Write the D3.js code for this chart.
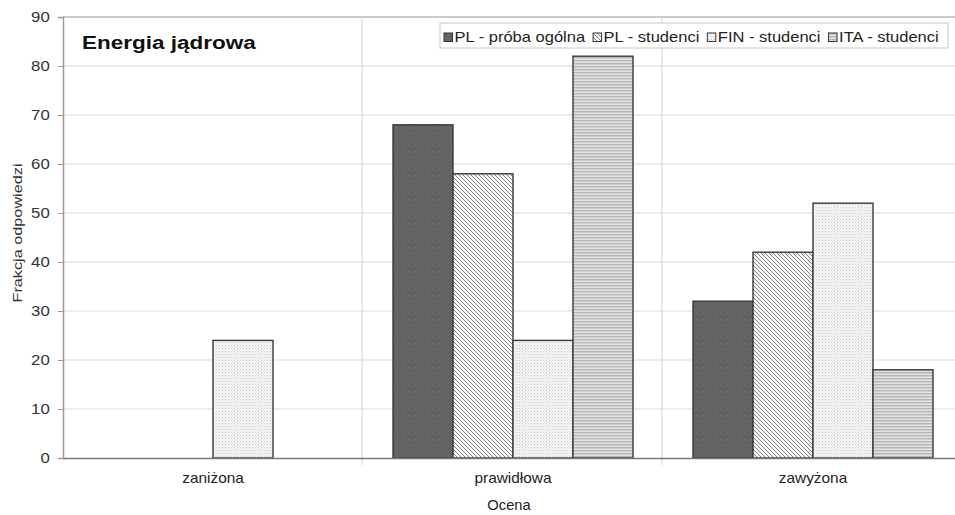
<!DOCTYPE html>
<html><head><meta charset="utf-8">
<script src="https://cdn.jsdelivr.net/npm/d3@7"></script>
<style>body{margin:0;background:#fff}svg{display:block}</style>
</head><body>
<svg id="c" width="955" height="515"></svg>
<script>
const categories = ["zaniżona", "prawidłowa", "zawyżona"];
const seriesNames = ["PL - próba ogólna", "PL - studenci", "FIN - studenci", "ITA - studenci"];
const plOgolna = [0, 68, 32];
const plStudenci = [0, 58, 42];
const finStudenci = [24, 24, 52];
const itaStudenci = [0, 82, 18];
const yTicks = [0, 10, 20, 30, 40, 50, 60, 70, 80, 90];
const seriesValues = [plOgolna, plStudenci, finStudenci, itaStudenci];

const svg = d3.select("#c");
const font = "'Liberation Sans', Arial, sans-serif";
const m = {l: 63, t: 17, r: 963, b: 458};

const defs = svg.append("defs");
let p = defs.append("pattern").attr("id","p0").attr("width",6).attr("height",6).attr("patternUnits","userSpaceOnUse");
p.append("rect").attr("width",6).attr("height",6).attr("fill","#636363");
p.append("rect").attr("x",1).attr("y",1).attr("width",1).attr("height",1).attr("fill","#7a7a7a");
p = defs.append("pattern").attr("id","p1").attr("width",4).attr("height",4).attr("patternUnits","userSpaceOnUse");
p.append("rect").attr("width",4).attr("height",4).attr("fill","#f6f6f6");
p.append("path").attr("d","M-1,-1 L5,5 M-1,3 L1,5 M3,-1 L5,1").attr("stroke","#7c7c7c").attr("stroke-width",0.95);
p = defs.append("pattern").attr("id","p2").attr("width",3).attr("height",3).attr("patternUnits","userSpaceOnUse");
p.append("rect").attr("width",3).attr("height",3).attr("fill","#f6f6f6");
p.append("rect").attr("x",0).attr("y",0).attr("width",1).attr("height",1).attr("fill","#c6c6c6");
p.append("rect").attr("x",1.5).attr("y",1.5).attr("width",1).attr("height",1).attr("fill","#d8d8d8");
p = defs.append("pattern").attr("id","p3").attr("width",4).attr("height",3).attr("patternUnits","userSpaceOnUse");
p.append("rect").attr("width",4).attr("height",3).attr("fill","#e2e2e2");
p.append("rect").attr("y",0).attr("width",4).attr("height",1.4).attr("fill","#b6b6b6");
const fills = ["url(#p0)","url(#p1)","url(#p2)","url(#p3)"];

const x = d3.scaleBand().domain(categories).range([m.l, m.r]).paddingInner(0).paddingOuter(0);
const xs = d3.scaleBand().domain(d3.range(4)).range([0, x.bandwidth()]).paddingInner(0).paddingOuter(0.5);
const y = d3.scaleLinear().domain([0, 90]).range([m.b, m.t]);

svg.append("g").selectAll("line").data(yTicks.filter(d=>d>0)).join("line")
  .attr("x1", m.l).attr("x2", m.r).attr("y1", d=>y(d)).attr("y2", d=>y(d))
  .attr("stroke", d=> d===90 ? "#b8b8b8" : "#dadada").attr("stroke-width", d=> d===90?1.5:1.2);
svg.append("g").selectAll("line").data(categories.slice(1)).join("line")
  .attr("x1", d=>x(d)-1).attr("x2", d=>x(d)-1).attr("y1", m.t).attr("y2", m.b+7)
  .attr("stroke","#d4d4d4").attr("stroke-width",1);

const g = svg.append("g");
seriesValues.forEach((vals, si) => {
  g.selectAll(null).data(categories.map((c,i)=>({c, v: vals[i]})).filter(d=>d.v>0)).join("rect")
    .attr("x", d => x(d.c) + xs(si))
    .attr("y", d => y(d.v))
    .attr("width", xs.bandwidth())
    .attr("height", d => y(0) - y(d.v))
    .attr("fill", fills[si]).attr("stroke", "#3a3a3a").attr("stroke-width", 1.4);
});

const ya = svg.append("g").attr("transform", `translate(${m.l},0)`)
  .call(d3.axisLeft(y).tickValues(yTicks).tickSize(5).tickPadding(6));
ya.select(".domain").attr("stroke","#9a9a9a").attr("stroke-width",1.5);
ya.selectAll(".tick line").attr("stroke","#9a9a9a");
ya.selectAll("text").attr("font-family", font).attr("font-size", 14).attr("fill","#333")
  .attr("transform","scale(1.2,1)");

const xa = svg.append("g").attr("transform", `translate(0,${m.b})`)
  .call(d3.axisBottom(x).tickSize(0).tickPadding(15));
xa.select(".domain").attr("stroke","#7a7a7a").attr("stroke-width",1.5);
xa.selectAll("text").attr("font-family", font).attr("font-size", 14).attr("fill","#222")
  .attr("transform","scale(1.1,1)");

svg.append("text").attr("transform","translate(509,510) scale(1.05,1)").attr("text-anchor","middle")
  .attr("font-family", font).attr("font-size", 14).attr("fill","#222").text("Ocena");
svg.append("text").attr("transform","translate(22,233) rotate(-90) scale(1.25,1)").attr("text-anchor","middle")
  .attr("font-family", font).attr("font-size", 13).attr("fill","#333").text("Frakcja odpowiedzi");

svg.append("text").attr("transform","translate(82,49) scale(1.25,1)").attr("font-family", font).attr("font-weight","bold")
  .attr("font-size", 18).attr("fill","#111").text("Energia jądrowa");

const lg = svg.append("g");
lg.append("rect").attr("x", 440).attr("y", 23).attr("width", 508).attr("height", 25)
  .attr("fill","#fff").attr("stroke","#c8c8c8").attr("stroke-width",1);
const ls = 1.18;
let lx = 444;
seriesNames.forEach((n, i) => {
  lg.append("rect").attr("x", lx).attr("y", 33).attr("width", 8.5).attr("height", 8.5)
    .attr("fill", fills[i]).attr("stroke","#333").attr("stroke-width",1);
  const t = lg.append("text").attr("transform", `translate(${lx + 10.5},42) scale(${ls},1)`).attr("font-family", font)
    .attr("font-size", 14).attr("fill","#222").text(n);
  lx += 10.5 + t.node().getComputedTextLength() * ls + 8;
});
</script>
</body></html>
